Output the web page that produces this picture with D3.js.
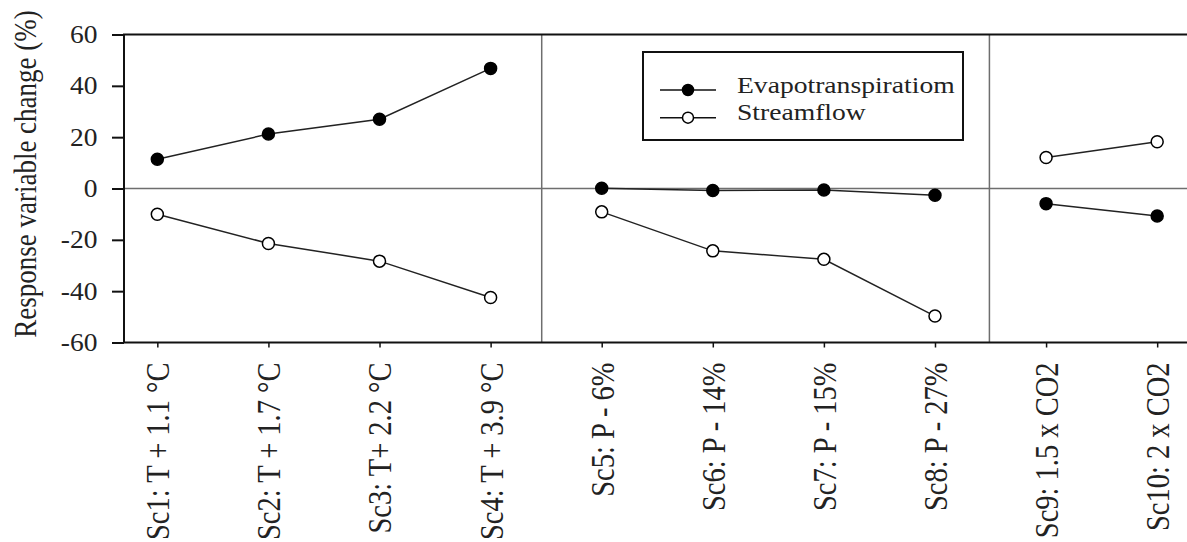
<!DOCTYPE html>
<html>
<head>
<meta charset="utf-8">
<script src="https://cdn.jsdelivr.net/npm/d3@7"></script>
<style>
  body { margin: 0; background: #fff; }
  svg text { font-family: "Liberation Serif", "Times New Roman", serif; }
</style>
</head>
<body>
<div class="chart"></div>
<script>
// scenario labels, position index 1..10
var scenarios = ["Sc1: T + 1.1 \u00B0C", "Sc2: T + 1.7 \u00B0C", "Sc3: T+ 2.2 \u00B0C", "Sc4: T + 3.9 \u00B0C",
  "Sc5: P - 6%", "Sc6: P - 14%", "Sc7: P - 15%", "Sc8: P - 27%",
  "Sc9: 1.5 x CO2", "Sc10: 2 x CO2"];
// scenario group (temperature, precipitation, CO2) - lines only join points in one group
var groups = [0, 0, 0, 0, 1, 1, 1, 1, 2, 2];
var evapotranspiration = [11.4, 21.2, 27.0, 46.8, 0.1, -0.8, -0.6, -2.6, -5.9, -10.7];
var streamflow = [-10.0, -21.4, -28.3, -42.5, -9.1, -24.3, -27.6, -49.7, 12.1, 18.2];
var yTicks = [-60, -40, -20, 0, 20, 40, 60];
var separators = [4.46, 8.49];
var legendNames = ["Evapotranspiratiom", "Streamflow"];

var values = {
  width: 1187,
  height: 542,
  left: 124,
  right: 1190.5,
  top: 34.5,
  bottom: 342.5,
  stretch: 1.15 // the original figure's text is a bit wider than it is tall
};

var x = d3.scaleLinear().domain([0.7, 10.3]).range([values.left, values.right]);
var y = d3.scaleLinear().domain([-60, 60]).range([values.bottom, values.top]);

var svg = d3.select('.chart')
  .append('svg')
  .attr('width', values.width)
  .attr('height', values.height);

// zero line and the group separators
svg.append('line')
  .attr('x1', values.left).attr('x2', values.right)
  .attr('y1', y(0)).attr('y2', y(0))
  .attr('stroke', '#6e6e6e').attr('stroke-width', 1.5);

svg.selectAll('.sep')
  .data(separators)
  .enter()
  .append('line')
  .attr('class', 'sep')
  .attr('x1', d => x(d)).attr('x2', d => x(d))
  .attr('y1', values.top).attr('y2', values.bottom)
  .attr('stroke', '#6e6e6e').attr('stroke-width', 1.5);

// frame
svg.append('rect')
  .attr('x', values.left).attr('y', values.top)
  .attr('width', values.right - values.left)
  .attr('height', values.bottom - values.top)
  .attr('fill', 'none').attr('stroke', '#111').attr('stroke-width', 2);

// y axis
var yAxis = d3.axisLeft(y).tickValues(yTicks).tickSize(12).tickFormat(d => String(d));
var gy = svg.append('g')
  .attr('transform', 'translate(' + values.left + ',0)')
  .call(yAxis);
gy.select('.domain').remove();
gy.selectAll('line').attr('stroke', '#111').attr('stroke-width', 2);
gy.selectAll('text')
  .attr('font-size', '25px')
  .attr('font-family', null)
  .attr('fill', '#222')
  .attr('x', -26.5 / 1.1)
  .attr('transform', 'scale(1.1,1)');

// x axis
var xAxis = d3.axisBottom(x).tickValues(d3.range(1, 11)).tickSize(5).tickFormat(d => scenarios[d - 1]);
var gx = svg.append('g')
  .attr('transform', 'translate(0,' + values.bottom + ')')
  .call(xAxis);
gx.select('.domain').remove();
gx.selectAll('line').attr('stroke', '#111').attr('stroke-width', 1.5);
gx.selectAll('text')
  .attr('font-size', '28.5px')
  .attr('fill', '#222')
  .attr('transform', 'scale(' + values.stretch + ',1) rotate(-90)')
  .attr('text-anchor', 'end')
  .attr('x', -20)
  .attr('y', 0)
  .attr('dy', '0.35em');

// y axis title
svg.append('text')
  .attr('transform', 'translate(25,174) scale(' + values.stretch + ',1) rotate(-90)')
  .attr('text-anchor', 'middle')
  .attr('dy', '0.35em')
  .attr('font-size', '27px')
  .attr('fill', '#222')
  .text('Response variable change (%)');

// lines, one segment per scenario group
var series = [
  { name: legendNames[0], vals: evapotranspiration, fill: '#000' },
  { name: legendNames[1], vals: streamflow, fill: '#fff' }
];

var line = d3.line()
  .x(d => x(d.i))
  .y(d => y(d.v));

series.forEach(s => {
  var pts = s.vals.map((v, i) => ({ i: i + 1, v: v, g: groups[i] }));
  var byGroup = d3.groups(pts, d => d.g);
  svg.selectAll(null)
    .data(byGroup)
    .enter()
    .append('path')
    .attr('d', d => line(d[1]))
    .attr('fill', 'none')
    .attr('stroke', '#222')
    .attr('stroke-width', 1.5);
  svg.selectAll(null)
    .data(pts)
    .enter()
    .append('circle')
    .attr('cx', d => x(d.i))
    .attr('cy', d => y(d.v))
    .attr('r', 6)
    .attr('fill', s.fill)
    .attr('stroke', '#000')
    .attr('stroke-width', 1.5);
});

// legend
var legend = svg.append('g');
legend.append('rect')
  .attr('x', 643).attr('y', 52)
  .attr('width', 320).attr('height', 88)
  .attr('fill', '#fff').attr('stroke', '#111').attr('stroke-width', 2);

var items = legend.selectAll('.item')
  .data(series)
  .enter()
  .append('g')
  .attr('class', 'item')
  .attr('transform', (d, i) => 'translate(0,' + (90 + i * 27.7) + ')');
items.append('line')
  .attr('x1', 660).attr('x2', 716)
  .attr('stroke', '#111').attr('stroke-width', 1.5);
items.append('circle')
  .attr('cx', 688).attr('r', 5.5)
  .attr('fill', d => d.fill)
  .attr('stroke', '#000').attr('stroke-width', 1.5);
items.append('text')
  .attr('transform', 'translate(737,2.5) scale(' + values.stretch + ',1)')
  .attr('font-size', '24px')
  .attr('fill', '#222')
  .text(d => d.name);
</script>
</body>
</html>
